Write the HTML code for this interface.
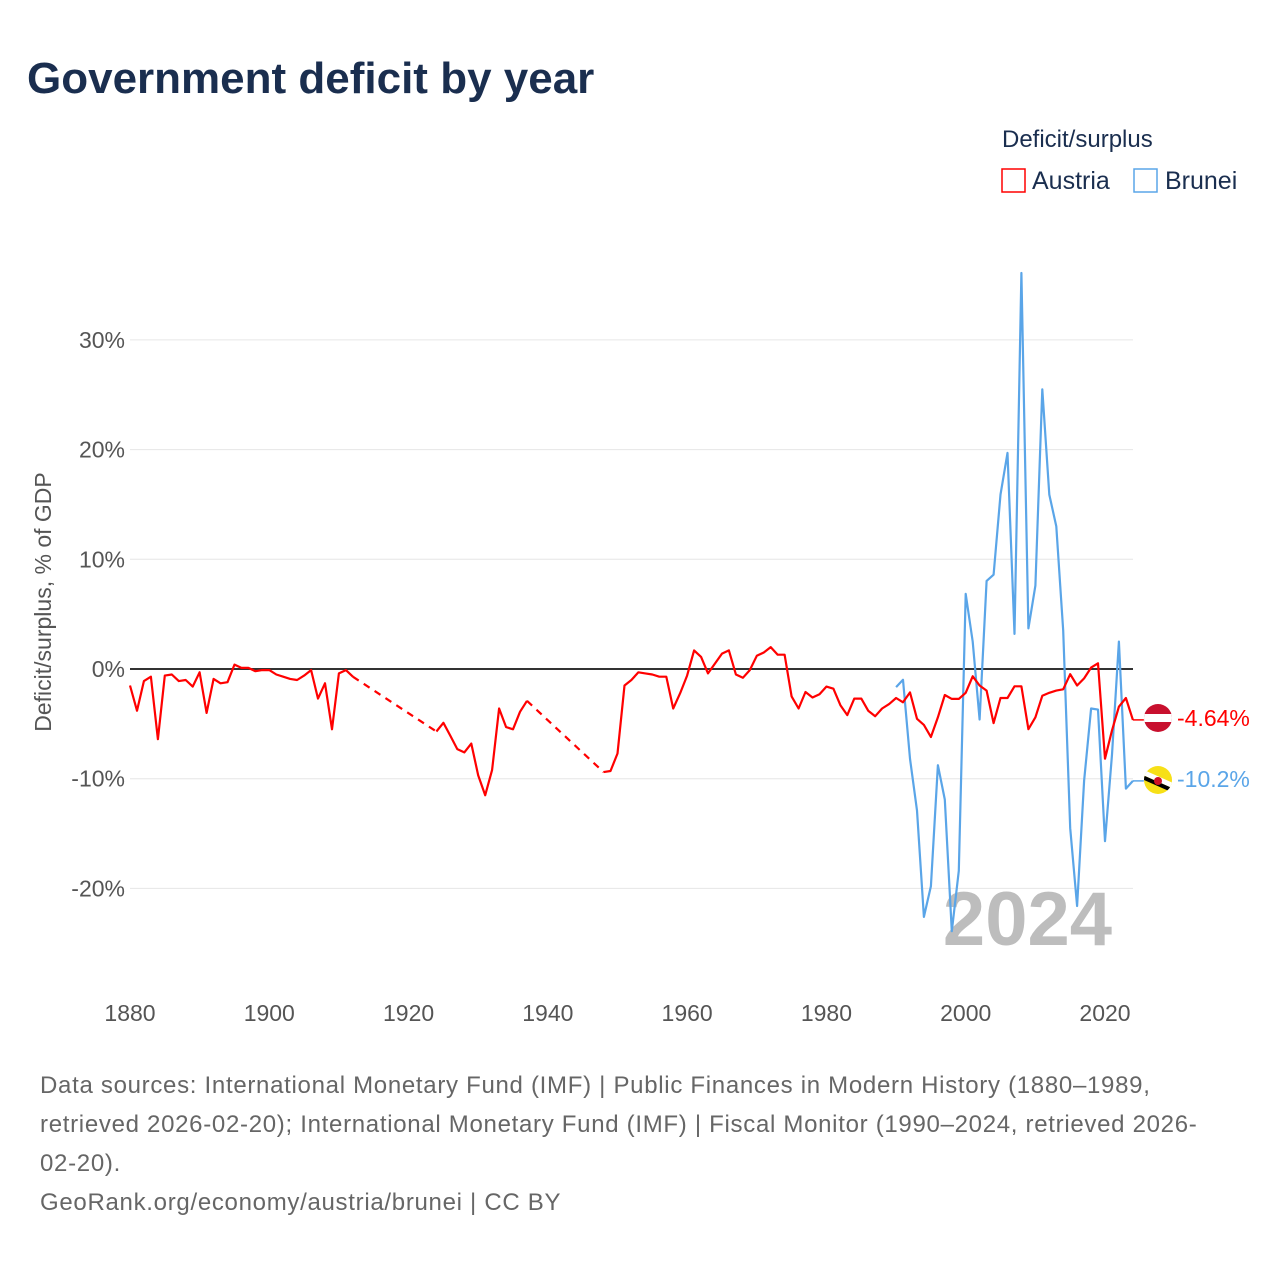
<!DOCTYPE html>
<html><head><meta charset="utf-8">
<style>
body{margin:0;background:#fff;font-family:"Liberation Sans",sans-serif;}
#wrap{position:relative;width:1280px;height:1280px;overflow:hidden;}
</style></head>
<body>
<div id="wrap">
<svg id="chart" width="1280" height="1280" xmlns="http://www.w3.org/2000/svg">
<text x="27" y="93" font-size="44" font-weight="bold" fill="#1a2e4f">Government deficit by year</text>
<text x="1002" y="147" font-size="24" fill="#1a2e4f">Deficit/surplus</text>
<g><rect x="1002" y="169" width="23" height="23" fill="none" stroke="#ff0000" stroke-width="1.5"/><text x="1032" y="189" font-size="25" fill="#1a2e4f">Austria</text></g>
<g><rect x="1134" y="169" width="23" height="23" fill="none" stroke="#5aa5e8" stroke-width="1.5"/><text x="1165" y="189" font-size="25" fill="#1a2e4f">Brunei</text></g>
<g id="grid"></g><g id="yt"></g><g id="xt"></g>
<text x="1112" y="945" font-size="76" font-weight="bold" fill="#bdbdbd" text-anchor="end">2024</text>
<g id="series"></g>
<text transform="translate(51,602) rotate(-90)" font-size="23" fill="#555" text-anchor="middle">Deficit/surplus, % of GDP</text>
<g><clipPath id="ca"><circle cx="1158" cy="718" r="14"/></clipPath><g clip-path="url(#ca)"><rect x="1144" y="704" width="28" height="28" fill="#c8102e"/><rect x="1144" y="714" width="28" height="8" fill="#fff"/></g></g>
<g><clipPath id="cb"><circle cx="1158" cy="780" r="14"/></clipPath><g clip-path="url(#cb)"><rect x="1144" y="766" width="28" height="28" fill="#f7e017"/><path d="M1140 771 L1176 787" stroke="#fff" stroke-width="5"/><path d="M1140 776 L1176 792" stroke="#000" stroke-width="4"/><circle cx="1158" cy="781" r="4" fill="#cf1126"/></g></g>
<text x="1177" y="726" font-size="23" fill="#ff0000">-4.64%</text>
<text x="1177" y="787" font-size="23" fill="#5aa5e8">-10.2%</text>
</svg>
<div style="position:absolute;left:40px;top:1066px;width:1230px;font-size:24px;line-height:39px;color:#666;white-space:nowrap;letter-spacing:0.7px;">Data sources: International Monetary Fund (IMF) | Public Finances in Modern History (1880–1989,<br>retrieved 2026-02-20); International Monetary Fund (IMF) | Fiscal Monitor (1990–2024, retrieved 2026-<br>02-20).<br>GeoRank.org/economy/austria/brunei | CC BY</div>
</div>
<script>
const austriaYears=[];for(let y=1880;y<=2024;y++){if((y>=1913&&y<=1923)||(y>=1938&&y<=1947))continue;austriaYears.push(y);}
const austriaValues=[-1.5,-3.8,-1.1,-0.7,-6.4,-0.6,-0.5,-1.1,-1.0,-1.6,-0.3,-4.0,-0.9,-1.3,-1.2,0.4,0.1,0.1,-0.2,-0.1,-0.1,-0.5,-0.7,-0.9,-1.0,-0.6,-0.1,-2.7,-1.3,-5.5,-0.4,-0.1,-0.7,
-5.7,-4.9,-6.1,-7.3,-7.6,-6.8,-9.7,-11.5,-9.2,-3.6,-5.3,-5.5,-3.9,-2.9,
-9.4,-9.3,-7.7,-1.5,-1.0,-0.3,-0.4,-0.5,-0.7,-0.7,-3.6,-2.2,-0.6,1.7,1.1,-0.4,0.5,1.4,1.7,-0.5,-0.8,-0.1,1.2,1.5,2.0,1.3,1.3,-2.5,-3.6,-2.1,-2.6,-2.3,-1.6,-1.8,-3.3,-4.2,-2.7,-2.7,-3.8,-4.3,-3.6,-3.2,
-2.64,-3.04,-2.13,-4.54,-5.1,-6.2,-4.4,-2.37,-2.73,-2.73,-2.17,-0.67,-1.5,-1.97,-4.93,-2.64,-2.64,-1.58,-1.58,-5.49,-4.4,-2.44,-2.17,-1.97,-1.85,-0.47,-1.5,-0.86,0.13,0.52,-8.18,-5.6,-3.44,-2.64,-4.64];
const bruneiYears=[];for(let y=1990;y<=2024;y++)bruneiYears.push(y);
const bruneiValues=[-1.65,-0.98,-8.18,-12.9,-22.6,-19.8,-8.77,-11.9,-23.9,-18.4,6.85,2.5,-4.6,8.03,8.6,15.9,19.7,3.2,36.1,3.7,7.6,25.5,15.9,13.0,3.5,-14.5,-21.6,-10.2,-3.6,-3.7,-15.7,-7.8,2.5,-10.9,-10.2];
const yTicks=[-20,-10,0,10,20,30];
const yTickLabels=["-20%","-10%","0%","10%","20%","30%"];
const xTicks=[1880,1900,1920,1940,1960,1980,2000,2020];
const NS="http://www.w3.org/2000/svg";
const X=y=>130+(y-1880)*(1105-130)/140;
const Y=v=>669-v*10.97;
function mk(t,a,p){const e=document.createElementNS(NS,t);for(const k in a)e.setAttribute(k,a[k]);p.appendChild(e);return e;}
const grid=document.getElementById('grid'),yt=document.getElementById('yt'),xt=document.getElementById('xt'),ser=document.getElementById('series');
yTicks.forEach((v,i)=>{
 const l=mk('line',{x1:130,x2:1133,y1:Y(v),y2:Y(v),stroke:v===0?'#333':'#e6e6e6','stroke-width':v===0?2:1},grid);
 
 
 const t=mk('text',{x:125,y:Y(v)+8,'font-size':23,fill:'#555','text-anchor':'end'},yt);t.textContent=yTickLabels[i];
 
 
});
xTicks.forEach(v=>{
 const t=mk('text',{x:X(v),y:1021,'font-size':23,fill:'#555','text-anchor':'middle'},xt);t.textContent=v;
 
 
});
function draw(years,vals,color,name){
 let seg=[];const segs=[];
 for(let i=0;i<years.length;i++){
  if(i>0&&years[i]-years[i-1]>1){segs.push(seg);
   const d=mk('line',{x1:X(years[i-1]),y1:Y(vals[i-1]),x2:X(years[i]),y2:Y(vals[i]),stroke:color,'stroke-width':2.2,'stroke-dasharray':'7,6'},ser);
   
   
   seg=[];}
  seg.push(X(years[i]).toFixed(1)+','+Y(vals[i]).toFixed(1));
 }
 segs.push(seg);
 segs.forEach(s=>{const p=mk('polyline',{points:s.join(' '),fill:'none',stroke:color,'stroke-width':2.2,'stroke-linejoin':'round'},ser);
  
  });
 const n=years.length-1;
 const c=mk('line',{x1:X(years[n]),y1:Y(vals[n]),x2:X(years[n])+11,y2:Y(vals[n]),stroke:color,'stroke-width':1.5},ser);
 
 
}
draw(bruneiYears,bruneiValues,'#5aa5e8','brunei');
draw(austriaYears,austriaValues,'#ff0000','austria');
</script>
</body></html>
